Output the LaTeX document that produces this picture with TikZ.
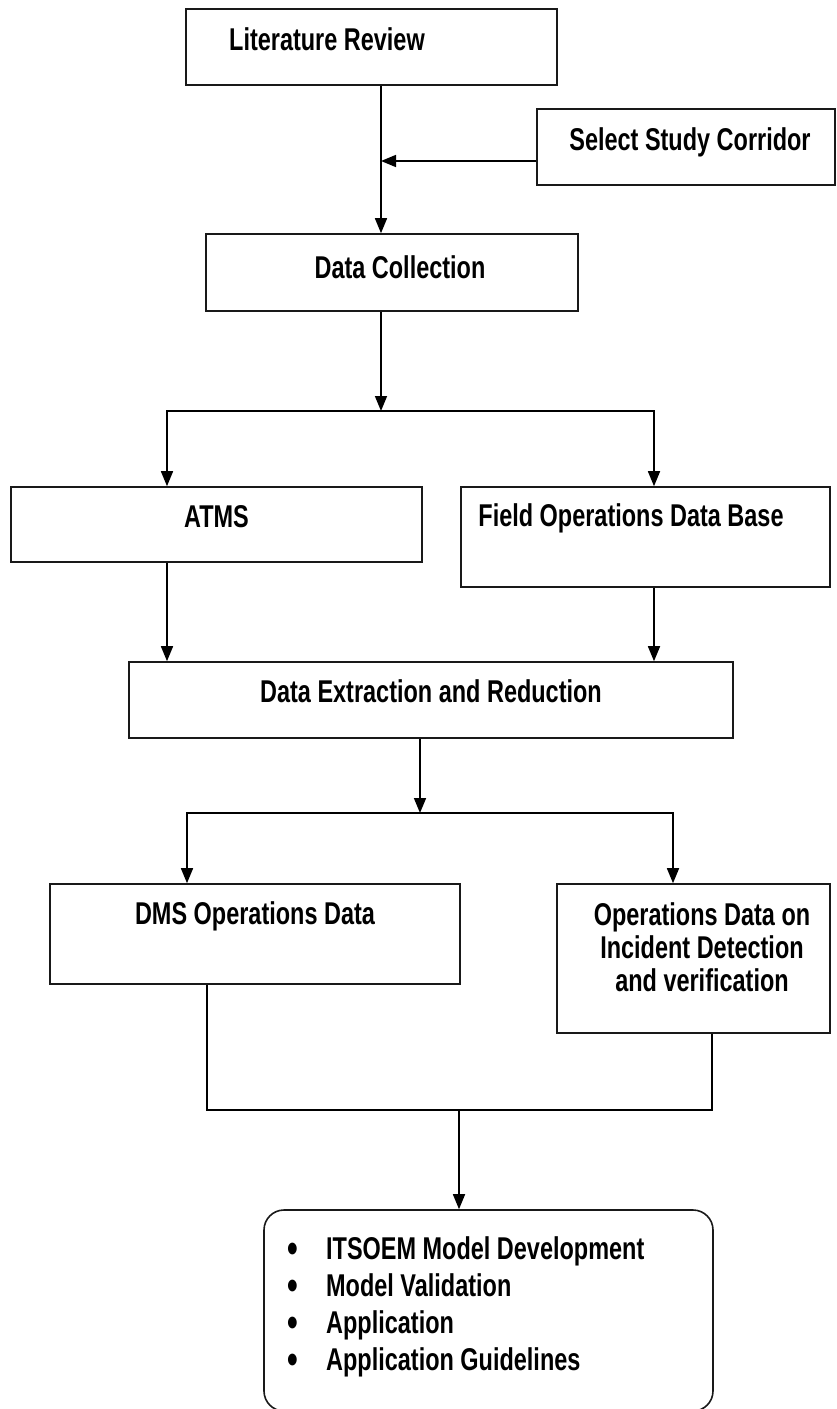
\documentclass[tikz,border=0pt]{standalone}
\usepackage{fontspec}
\newfontfamily\bfont{Liberation Sans}[FakeStretch=0.745]
\usetikzlibrary{arrows.meta}
\newcommand{\bigbul}{\raisebox{-3.2pt}{\scalebox{1.3}{\textbullet}}}
\begin{document}
\begin{tikzpicture}[x=1pt,y=-1pt,
  box/.style={draw=black!90, line width=1.6pt, rectangle, inner sep=0pt,
    minimum height=0pt, font=\bfont\bfseries\fontsize{31.5}{33}\selectfont},
  roundbox/.style={box, rounded corners=20pt, font=\bfont\bfseries\fontsize{31.5}{37}\selectfont},
  arr/.style={line width=1.6pt, -{Triangle[length=15pt,width=12pt]}},
  link/.style={line width=1.2pt}]
\useasboundingbox (0,0) rectangle (837,1409);

% boxes
\node[box, minimum width=371pt, text height=41pt, text depth=35pt] (lit) at (371.5,47)
  {Literature Review\hspace*{89pt}};
\node[box, minimum width=298pt, text height=41pt, text depth=35pt] (sel) at (686,147)
  {\hspace*{8pt}Select Study Corridor};
\node[box, minimum width=372pt, text height=44pt, text depth=33pt] (dc) at (392,272.5)
  {\hspace*{16pt}Data Collection};
\node[box, minimum width=411pt, text height=40pt, text depth=35pt] (atms) at (216.5,524.5)
  {ATMS};
\node[box, minimum width=369pt, text height=39pt, text depth=61pt] (field) at (645.5,537)
  {Field Operations Data Base\hspace*{29pt}};
\node[box, minimum width=604pt, text height=40pt, text depth=36pt] (dex) at (431,700)
  {Data Extraction and Reduction};
\node[box, minimum width=410pt, text height=40pt, text depth=60pt] (dms) at (255,934)
  {DMS Operations Data};
\node[box, minimum width=273pt, text height=107pt, text depth=42pt] (ops) at (693.5,958.5)
  {\hspace*{17pt}\begin{tabular}[b]{@{}c@{}}Operations Data on\\Incident Detection\\and verification\end{tabular}};
\node[roundbox, minimum width=449pt, text height=49pt, text depth=152pt] (out) at (488.5,1310.5)
  {\makebox[403pt][l]{\begin{tabular}[t]{@{}l@{\hspace{28.5pt}}l@{}}
   \bigbul & ITSOEM Model Development\\
   \bigbul & Model Validation\\
   \bigbul & Application\\
   \bigbul & Application Guidelines
   \end{tabular}}};

% junction points
\coordinate (c1) at (381,161);
\coordinate (s1) at (381,411);
\coordinate (aL) at (167,411);
\coordinate (aR) at (654,411);
\coordinate (s2) at (420,813);
\coordinate (bL) at (187,813);
\coordinate (bR) at (673,813);
\coordinate (mL) at (207,1110);
\coordinate (mR) at (712,1110);
\coordinate (m) at (459,1110);

% connectors
\draw[arr] (lit.south -| c1) -- (dc.north -| c1);
\draw[arr] (sel.west |- c1) -- (c1);
\draw[arr] (dc.south -| s1) -- (s1);
\draw[arr] (s1) -- (aL) -- (atms.north -| aL);
\draw[arr] (s1) -- (aR) -- (field.north -| aR);
\draw[arr] (atms.south -| aL) -- (dex.north -| aL);
\draw[arr] (field.south -| aR) -- (dex.north -| aR);
\draw[arr] (dex.south -| s2) -- (s2);
\draw[arr] (s2) -- (bL) -- (dms.north -| bL);
\draw[arr] (s2) -- (bR) -- (ops.north -| bR);
\draw[link] (dms.south -| mL) -- (mL) -- (mR) -- (ops.south -| mR);
\draw[arr] (m) -- (out.north -| m);
\end{tikzpicture}
\end{document}
